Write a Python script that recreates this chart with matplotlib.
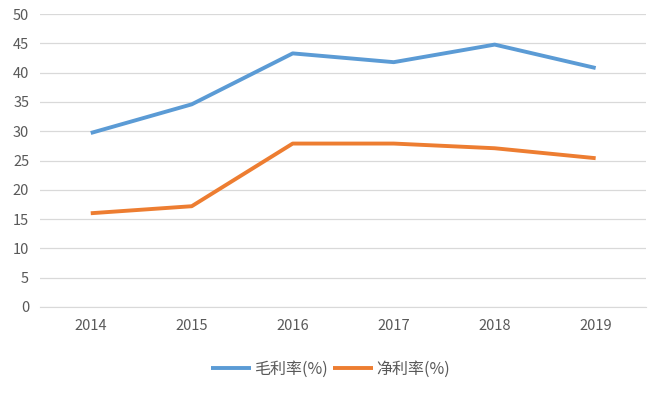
import matplotlib
matplotlib.use("Agg")
import matplotlib.pyplot as plt

plt.rcParams["font.family"] = ["Noto Sans CJK SC", "DejaVu Sans"]

YEARS = ["2014", "2015", "2016", "2017", "2018", "2019"]
GROSS_MARGIN = [29.7, 34.6, 43.3, 41.8, 44.8, 40.8]
NET_MARGIN = [16.0, 17.2, 27.9, 27.9, 27.1, 25.4]

fig = plt.figure(figsize=(6.6, 3.93), dpi=100)
ax = fig.add_axes([0.061, 0.219, 0.918, 0.745])

x = range(len(YEARS))
ax.plot(x, GROSS_MARGIN, color="#5B9BD5", linewidth=2.8, label="毛利率(%)",
        solid_joinstyle="round", solid_capstyle="butt")
ax.plot(x, NET_MARGIN, color="#ED7D31", linewidth=2.8, label="净利率(%)",
        solid_joinstyle="round", solid_capstyle="butt")

ax.set_xlim(-0.5, len(YEARS) - 0.5)
ax.set_ylim(0, 50)
ax.set_yticks(range(0, 51, 5))
ax.set_xticks(list(x))
ax.set_xticklabels(YEARS)
ax.grid(axis="y", color="#D9D9D9", linewidth=0.9)
ax.set_axisbelow(True)
for side in ["left", "right", "top"]:
    ax.spines[side].set_visible(False)
ax.spines["bottom"].set_color("#D9D9D9")
ax.tick_params(axis="both", length=0, labelsize=10.5, labelcolor="#595959")
ax.tick_params(axis="x", pad=9)
ax.tick_params(axis="y", pad=8)

ax.legend(loc="upper center", bbox_to_anchor=(0.479, -0.135), ncol=2, frameon=False,
          fontsize=11.5, labelcolor="#595959", handlelength=2.5, columnspacing=0.3,
          handletextpad=0.2)

fig.savefig("out.png", dpi=100)
